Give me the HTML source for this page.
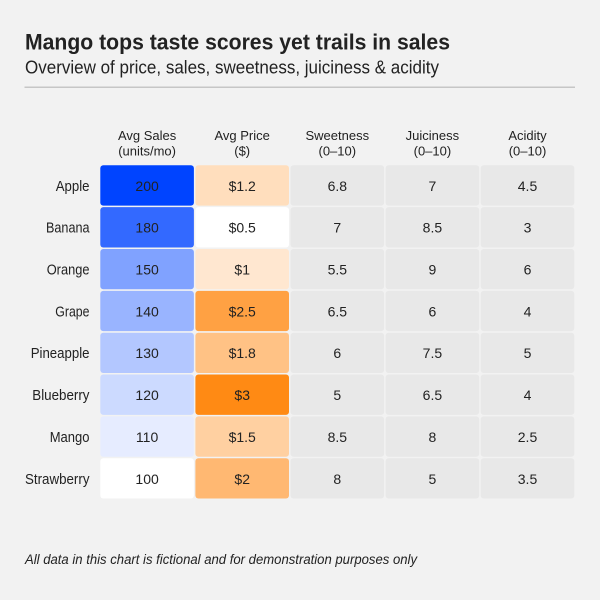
<!DOCTYPE html>
<html><head><meta charset="utf-8"><style>
html,body{margin:0;padding:0;background:#f2f2f2;}
svg{display:block;}
text{font-family:"Liberation Sans",sans-serif;fill:#222;}
</style></head><body>
<svg width="600" height="600" viewBox="0 0 600 600" xmlns="http://www.w3.org/2000/svg">
<rect width="600" height="600" fill="#f2f2f2"/>
<text x="25" y="49.3" font-size="22" font-weight="bold" fill="#1a1a1a" textLength="425" lengthAdjust="spacingAndGlyphs">Mango tops taste scores yet trails in sales</text>
<text x="25" y="73.3" font-size="18.5" textLength="414" lengthAdjust="spacingAndGlyphs">Overview of price, sales, sweetness, juiciness &amp; acidity</text>
<rect x="24.5" y="86.6" width="550.5" height="1.2" fill="#bcbcbc"/>

<g font-size="13" text-anchor="middle" fill="#333">
<text x="147.1" y="140">Avg Sales</text><text x="147.1" y="155.5">(units/mo)</text>
<text x="242.2" y="140">Avg Price</text><text x="242.2" y="155.5">($)</text>
<text x="337.3" y="140">Sweetness</text><text x="337.3" y="155.5">(0–10)</text>
<text x="432.4" y="140">Juiciness</text><text x="432.4" y="155.5">(0–10)</text>
<text x="527.5" y="140">Acidity</text><text x="527.5" y="155.5">(0–10)</text>
</g>

<!-- row labels -->
<g font-size="14.5">
<text x="55.7" y="190.8" textLength="33.8" lengthAdjust="spacingAndGlyphs">Apple</text>
<text x="46" y="232.7" textLength="43.5" lengthAdjust="spacingAndGlyphs">Banana</text>
<text x="46.7" y="274.5" textLength="42.8" lengthAdjust="spacingAndGlyphs">Orange</text>
<text x="55.3" y="316.4" textLength="34.2" lengthAdjust="spacingAndGlyphs">Grape</text>
<text x="30.7" y="358.2" textLength="58.8" lengthAdjust="spacingAndGlyphs">Pineapple</text>
<text x="32.3" y="400.1" textLength="57.2" lengthAdjust="spacingAndGlyphs">Blueberry</text>
<text x="49.7" y="441.9" textLength="39.8" lengthAdjust="spacingAndGlyphs">Mango</text>
<text x="25" y="483.8" textLength="64.5" lengthAdjust="spacingAndGlyphs">Strawberry</text>
</g>

<!-- cells -->
<g>
<!-- column 1: sales -->
<rect x="100.3" y="165.3" width="93.6" height="40.3" rx="3" fill="#0044ff"/>
<rect x="100.3" y="207.15" width="93.6" height="40.3" rx="3" fill="#3369ff"/>
<rect x="100.3" y="249" width="93.6" height="40.3" rx="3" fill="#80a2ff"/>
<rect x="100.3" y="290.85" width="93.6" height="40.3" rx="3" fill="#99b4ff"/>
<rect x="100.3" y="332.7" width="93.6" height="40.3" rx="3" fill="#b3c7ff"/>
<rect x="100.3" y="374.55" width="93.6" height="40.3" rx="3" fill="#ccdaff"/>
<rect x="100.3" y="416.4" width="93.6" height="40.3" rx="3" fill="#e6ecff"/>
<rect x="100.3" y="458.25" width="93.6" height="40.3" rx="3" fill="#ffffff"/>
<!-- column 2: price -->
<rect x="195.4" y="165.3" width="93.6" height="40.3" rx="3" fill="#ffdebd"/>
<rect x="195.4" y="207.15" width="93.6" height="40.3" rx="3" fill="#ffffff"/>
<rect x="195.4" y="249" width="93.6" height="40.3" rx="3" fill="#ffe7d0"/>
<rect x="195.4" y="290.85" width="93.6" height="40.3" rx="3" fill="#ffa143"/>
<rect x="195.4" y="332.7" width="93.6" height="40.3" rx="3" fill="#ffc285"/>
<rect x="195.4" y="374.55" width="93.6" height="40.3" rx="3" fill="#ff8a14"/>
<rect x="195.4" y="416.4" width="93.6" height="40.3" rx="3" fill="#ffd0a1"/>
<rect x="195.4" y="458.25" width="93.6" height="40.3" rx="3" fill="#ffb872"/>
</g>
<g fill="#e8e8e8">
<rect x="290.5" y="165.3" width="93.6" height="40.3" rx="3"/><rect x="385.6" y="165.3" width="93.6" height="40.3" rx="3"/><rect x="480.7" y="165.3" width="93.6" height="40.3" rx="3"/>
<rect x="290.5" y="207.15" width="93.6" height="40.3" rx="3"/><rect x="385.6" y="207.15" width="93.6" height="40.3" rx="3"/><rect x="480.7" y="207.15" width="93.6" height="40.3" rx="3"/>
<rect x="290.5" y="249" width="93.6" height="40.3" rx="3"/><rect x="385.6" y="249" width="93.6" height="40.3" rx="3"/><rect x="480.7" y="249" width="93.6" height="40.3" rx="3"/>
<rect x="290.5" y="290.85" width="93.6" height="40.3" rx="3"/><rect x="385.6" y="290.85" width="93.6" height="40.3" rx="3"/><rect x="480.7" y="290.85" width="93.6" height="40.3" rx="3"/>
<rect x="290.5" y="332.7" width="93.6" height="40.3" rx="3"/><rect x="385.6" y="332.7" width="93.6" height="40.3" rx="3"/><rect x="480.7" y="332.7" width="93.6" height="40.3" rx="3"/>
<rect x="290.5" y="374.55" width="93.6" height="40.3" rx="3"/><rect x="385.6" y="374.55" width="93.6" height="40.3" rx="3"/><rect x="480.7" y="374.55" width="93.6" height="40.3" rx="3"/>
<rect x="290.5" y="416.4" width="93.6" height="40.3" rx="3"/><rect x="385.6" y="416.4" width="93.6" height="40.3" rx="3"/><rect x="480.7" y="416.4" width="93.6" height="40.3" rx="3"/>
<rect x="290.5" y="458.25" width="93.6" height="40.3" rx="3"/><rect x="385.6" y="458.25" width="93.6" height="40.3" rx="3"/><rect x="480.7" y="458.25" width="93.6" height="40.3" rx="3"/>
</g>

<g font-size="14" text-anchor="middle">
<text x="147.1" y="190.8">200</text><text x="242.2" y="190.8">$1.2</text><text x="337.3" y="190.8">6.8</text><text x="432.4" y="190.8">7</text><text x="527.5" y="190.8">4.5</text>
<text x="147.1" y="232.7">180</text><text x="242.2" y="232.7">$0.5</text><text x="337.3" y="232.7">7</text><text x="432.4" y="232.7">8.5</text><text x="527.5" y="232.7">3</text>
<text x="147.1" y="274.5">150</text><text x="242.2" y="274.5">$1</text><text x="337.3" y="274.5">5.5</text><text x="432.4" y="274.5">9</text><text x="527.5" y="274.5">6</text>
<text x="147.1" y="316.4">140</text><text x="242.2" y="316.4">$2.5</text><text x="337.3" y="316.4">6.5</text><text x="432.4" y="316.4">6</text><text x="527.5" y="316.4">4</text>
<text x="147.1" y="358.2">130</text><text x="242.2" y="358.2">$1.8</text><text x="337.3" y="358.2">6</text><text x="432.4" y="358.2">7.5</text><text x="527.5" y="358.2">5</text>
<text x="147.1" y="400.1">120</text><text x="242.2" y="400.1">$3</text><text x="337.3" y="400.1">5</text><text x="432.4" y="400.1">6.5</text><text x="527.5" y="400.1">4</text>
<text x="147.1" y="441.9">110</text><text x="242.2" y="441.9">$1.5</text><text x="337.3" y="441.9">8.5</text><text x="432.4" y="441.9">8</text><text x="527.5" y="441.9">2.5</text>
<text x="147.1" y="483.8">100</text><text x="242.2" y="483.8">$2</text><text x="337.3" y="483.8">8</text><text x="432.4" y="483.8">5</text><text x="527.5" y="483.8">3.5</text>
</g>

<text x="25" y="564" font-size="13.5" font-style="italic" textLength="392" lengthAdjust="spacingAndGlyphs">All data in this chart is fictional and for demonstration purposes only</text>
</svg>
</body></html>
